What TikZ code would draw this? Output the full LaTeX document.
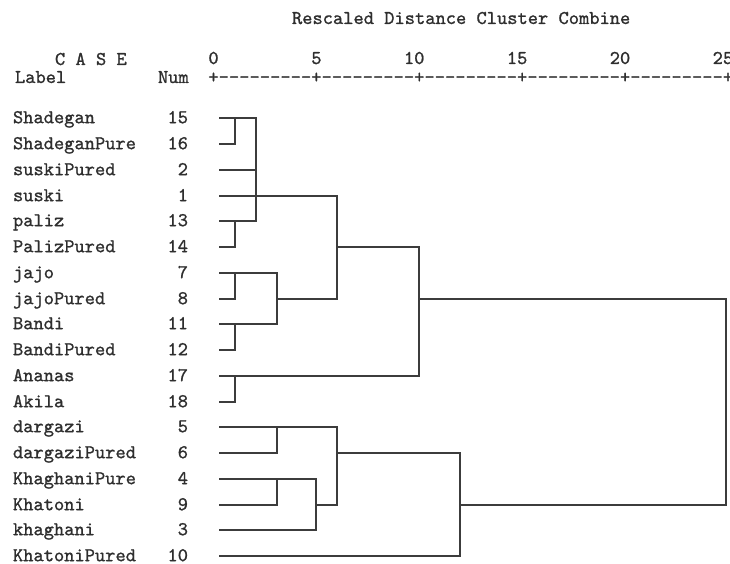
\documentclass[tikz,border=0pt]{standalone}
\usepackage{fontspec}
\newfontfamily\spss[FakeBold=1]{lmmono10-regular.otf}
\definecolor{txt}{HTML}{2E2E2E}
\definecolor{ln}{HTML}{3C3C3C}
\begin{document}
\begin{tikzpicture}[x=1bp,y=-1bp,
  t/.style={inner sep=0pt,outer sep=0pt,text=txt,font=\spss\fontsize{19.6}{19.6}\selectfont},
  tree/.style={draw=ln,line width=2bp,line cap=rect}]
\useasboundingbox[fill=white] (0,0) rectangle (730,564);
% header
\node[t,anchor=base west] (title) at (292,24) {Rescaled Distance Cluster Combine};
\node[t,anchor=base west] (case) at (55,65) {C A S E};
\node[t,anchor=base west] (label) at (15,83) {Label};
\node[t,anchor=base west] (numh) at (158,83) {Num};
\foreach \v [count=\k from 0] in {0,5,10,15,20,25}
  \node[t,anchor=base east] (tick\k) at ({213.5+102.9*\k+5.15},64) {\v};
\foreach \i in {0,...,50}{
  \pgfmathtruncatemacro\r{mod(\i,10)}
  \ifnum\r=0
    \node[t,anchor=base] (ax\i) at ({213.5+10.29*\i},83) {+};
  \else
    \node[t,anchor=base] (ax\i) at ({213.5+10.29*\i},83) {-};
  \fi
}
% rows
\foreach \nm/\nu [count=\i from 0] in {Shadegan/15,ShadeganPure/16,suskiPured/2,suski/1,paliz/13,PalizPured/14,jajo/7,jajoPured/8,Bandi/11,BandiPured/12,Ananas/17,Akila/18,dargazi/5,dargaziPured/6,KhaghaniPure/4,Khatoni/9,khaghani/3,KhatoniPured/10}{
  \pgfmathtruncatemacro\yy{round(118.3+25.75*\i)}
  \node[t,anchor=base west] (lab\i) at (13,\yy+5.2) {\nm};
  \node[t,anchor=base east] (num\i) at (188,\yy+5.2) {\nu};
  \coordinate (l\i) at (220,\yy);
}
\coordinate (va) at (235,0);
\coordinate (vb) at (256,0);
\coordinate (vc) at (277,0);
\coordinate (vd) at (316,0);
\coordinate (ve) at (337,0);
\coordinate (vf) at (419,0);
\coordinate (vg) at (460,0);
\coordinate (vh) at (726,0);
% clusters
\draw[tree] (l1) -| (l0 -| va);
\draw[tree] (l0) -- (l0 -| vb);
\draw[tree] (l5) -| (l4 -| va);
\draw[tree] (l4) -- (l4 -| vb);
\draw[tree] (l2) -- (l2 -| vb);
\draw[tree] (l0 -| vb) -- (l4 -| vb);
\draw[tree] (l3) -- (l3 -| ve);
\draw[tree] (l7) -| (l6 -| va);
\draw[tree] (l6) -- (l6 -| vc);
\draw[tree] (l9) -| (l8 -| va);
\draw[tree] (l8) -- (l8 -| vc);
\draw[tree] (l6 -| vc) -- (l8 -| vc);
\draw[tree] (l7 -| vc) -- (l7 -| ve);
\draw[tree] (l3 -| ve) -- (l7 -| ve);
\draw[tree] (l5 -| ve) -- (l5 -| vf);
\draw[tree] (l11) -| (l10 -| va);
\draw[tree] (l10) -- (l10 -| vf);
\draw[tree] (l5 -| vf) -- (l10 -| vf);
\draw[tree] (l7 -| vf) -- (l7 -| vh);
\draw[tree] (l13) -| (l12 -| vc);
\draw[tree] (l12) -- (l12 -| ve);
\draw[tree] (l15) -| (l14 -| vc);
\draw[tree] (l14) -- (l14 -| vd);
\draw[tree] (l16) -| (l14 -| vd);
\draw[tree] (l15 -| vd) -- (l15 -| ve);
\draw[tree] (l12 -| ve) -- (l15 -| ve);
\draw[tree] (l13 -| ve) -- (l13 -| vg);
\draw[tree] (l17) -| (l13 -| vg);
\draw[tree] (l15 -| vg) -- (l15 -| vh);
\draw[tree] (l7 -| vh) -- (l15 -| vh);
\end{tikzpicture}
\end{document}
